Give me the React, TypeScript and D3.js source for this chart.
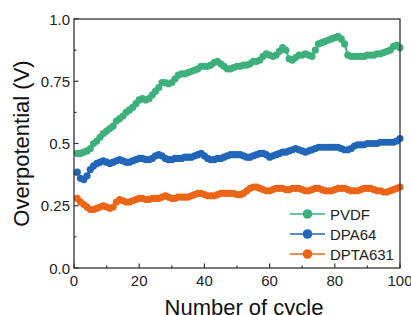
import React from "react";
import * as d3 from "d3";

const cycles: number[] = Array.from({ length: 100 }, (_, i) => i + 1);

const pvdf: number[] = [
  0.46, 0.46, 0.465, 0.47, 0.48, 0.5, 0.51, 0.525, 0.54, 0.55,
  0.56, 0.57, 0.59, 0.6, 0.61, 0.625, 0.635, 0.645, 0.66, 0.675,
  0.68, 0.675, 0.68, 0.695, 0.71, 0.725, 0.745, 0.745, 0.74, 0.745,
  0.76, 0.775, 0.78, 0.78, 0.785, 0.79, 0.795, 0.8, 0.81, 0.81,
  0.81, 0.815, 0.825, 0.83, 0.82, 0.81, 0.8, 0.8, 0.805, 0.81,
  0.81, 0.815, 0.815, 0.82, 0.83, 0.83, 0.835, 0.85, 0.86, 0.855,
  0.85, 0.855, 0.87, 0.885, 0.875, 0.84, 0.835, 0.845, 0.855, 0.855,
  0.86, 0.855, 0.85, 0.875, 0.9, 0.905, 0.91, 0.915, 0.92, 0.925,
  0.93, 0.92, 0.9, 0.855, 0.85, 0.85, 0.85, 0.85, 0.85, 0.855,
  0.855, 0.855, 0.86, 0.86, 0.865, 0.87, 0.875, 0.89, 0.895, 0.885,
];

const dpa64: number[] = [
  0.385, 0.36, 0.355, 0.37, 0.395, 0.41, 0.42, 0.425, 0.43, 0.425,
  0.42, 0.425, 0.43, 0.435, 0.43, 0.425, 0.425, 0.43, 0.435, 0.44,
  0.44, 0.435, 0.435, 0.44, 0.45, 0.455, 0.45, 0.44, 0.435, 0.435,
  0.44, 0.44, 0.44, 0.445, 0.445, 0.445, 0.45, 0.455, 0.46, 0.45,
  0.44, 0.435, 0.435, 0.44, 0.44, 0.445, 0.45, 0.455, 0.455, 0.455,
  0.455, 0.45, 0.445, 0.445, 0.45, 0.455, 0.46, 0.46, 0.455, 0.445,
  0.45, 0.455, 0.46, 0.465, 0.465, 0.47, 0.475, 0.48, 0.475, 0.47,
  0.465, 0.47, 0.475, 0.48, 0.485, 0.485, 0.485, 0.485, 0.485, 0.485,
  0.485, 0.48, 0.475, 0.475, 0.48, 0.49, 0.495, 0.495, 0.495, 0.5,
  0.5, 0.5, 0.5, 0.505, 0.505, 0.505, 0.505, 0.505, 0.51, 0.52,
];

const dpta631: number[] = [
  0.28, 0.265, 0.255, 0.245, 0.235, 0.235, 0.24, 0.245, 0.25, 0.245,
  0.24, 0.245, 0.265, 0.275, 0.27, 0.265, 0.265, 0.27, 0.275, 0.28,
  0.28, 0.275, 0.275, 0.28, 0.28, 0.28, 0.285, 0.29, 0.285, 0.28,
  0.28, 0.285, 0.285, 0.285, 0.285, 0.29, 0.295, 0.3, 0.3, 0.295,
  0.29, 0.29, 0.29, 0.295, 0.3, 0.3, 0.3, 0.3, 0.3, 0.295,
  0.295, 0.3, 0.31, 0.32, 0.325, 0.325, 0.32, 0.315, 0.31, 0.31,
  0.315, 0.32, 0.32, 0.32, 0.315, 0.315, 0.32, 0.32, 0.32, 0.315,
  0.31, 0.31, 0.315, 0.32, 0.32, 0.315, 0.31, 0.31, 0.31, 0.315,
  0.32, 0.32, 0.32, 0.315, 0.31, 0.31, 0.31, 0.315, 0.32, 0.32,
  0.32, 0.315, 0.31, 0.31, 0.305, 0.305, 0.31, 0.315, 0.32, 0.325,
];

const seriesNames: string[] = ["PVDF", "DPA64", "DPTA631"];
const seriesColors: string[] = ["#3DB07C", "#2166B8", "#EC6516"];
const xTicks: number[] = [0, 20, 40, 60, 80, 100];
const yTicks: number[] = [0, 0.25, 0.5, 0.75, 1.0];
const yTickLabels: string[] = ["0.0", "0.25", "0.5", "0.75", "1.0"];

const W = 411;
const H = 315;
const M = { left: 74, right: 400, top: 19, bottom: 268 };
const FONT = "Arial, 'Liberation Sans', sans-serif";
const AXIS = "#333333";

export default function App() {
  const x = d3.scaleLinear().domain([0, 100]).range([M.left, M.right]);
  const y = d3.scaleLinear().domain([0, 1]).range([M.bottom, M.top]);
  const allSeries = [pvdf, dpa64, dpta631];
  const line = d3
    .line<number>()
    .x((_, i) => x(cycles[i]))
    .y((d) => y(d));

  const xMinor = d3.range(10, 100, 20);
  const yMinor = d3.range(0.125, 1, 0.25);

  return (
    <svg
      width={W}
      height={H}
      style={{ position: "absolute", left: 0, top: 0, background: "#fff" }}
      fontFamily={FONT}
    >
      {/* series */}
      {allSeries
        .map((s, k) => ({ s, k }))
        .reverse()
        .map(({ s, k }) => (
          <g key={k}>
            <path d={line(s) || ""} fill="none" stroke={seriesColors[k]} strokeWidth={2} />
            {s.map((v, i) => (
              <circle key={i} cx={x(cycles[i])} cy={y(v)} r={3.6} fill={seriesColors[k]} />
            ))}
          </g>
        ))}

      {/* frame */}
      <rect
        x={M.left}
        y={M.top}
        width={M.right - M.left}
        height={M.bottom - M.top}
        fill="none"
        stroke={AXIS}
        strokeWidth={1.3}
      />

      {/* x ticks */}
      {xTicks.map((t) => (
        <g key={"xt" + t}>
          <line x1={x(t)} x2={x(t)} y1={M.bottom} y2={M.bottom - 4.5} stroke={AXIS} strokeWidth={1.2} />
          <text x={x(t)} y={286} textAnchor="middle" fontSize={15} fill="#222">
            {t}
          </text>
        </g>
      ))}
      {xMinor.map((t) => (
        <line key={"xm" + t} x1={x(t)} x2={x(t)} y1={M.bottom} y2={M.bottom - 2.5} stroke={AXIS} strokeWidth={1.2} />
      ))}

      {/* y ticks */}
      {yTicks.map((t, i) => (
        <g key={"yt" + t}>
          <line x1={M.left} x2={M.left + 4.5} y1={y(t)} y2={y(t)} stroke={AXIS} strokeWidth={1.2} />
          <text x={M.left - 4} y={y(t) + 5.5} textAnchor="end" fontSize={15} fill="#222">
            {yTickLabels[i]}
          </text>
        </g>
      ))}
      {yMinor.map((t) => (
        <line key={"ym" + t} x1={M.left} x2={M.left + 2.5} y1={y(t)} y2={y(t)} stroke={AXIS} strokeWidth={1.2} />
      ))}

      {/* axis titles */}
      <text x={(M.left + M.right) / 2 + 7} y={315} textAnchor="middle" fontSize={22} fill="#111">
        Number of cycle
      </text>
      <text
        transform={`translate(29, ${(M.top + M.bottom) / 2}) rotate(-90)`}
        textAnchor="middle"
        fontSize={22}
        fill="#111"
      >
        Overpotential (V)
      </text>

      {/* legend */}
      {seriesNames.map((n, k) => {
        const by = 220 + k * 20;
        return (
          <g key={n}>
            <line x1={290} x2={325} y1={by - 6} y2={by - 6} stroke={seriesColors[k]} strokeWidth={1.5} />
            <circle cx={307.5} cy={by - 6} r={4.8} fill={seriesColors[k]} />
            <text x={330} y={by} fontSize={15} fill="#222">
              {n}
            </text>
          </g>
        );
      })}
    </svg>
  );
}
